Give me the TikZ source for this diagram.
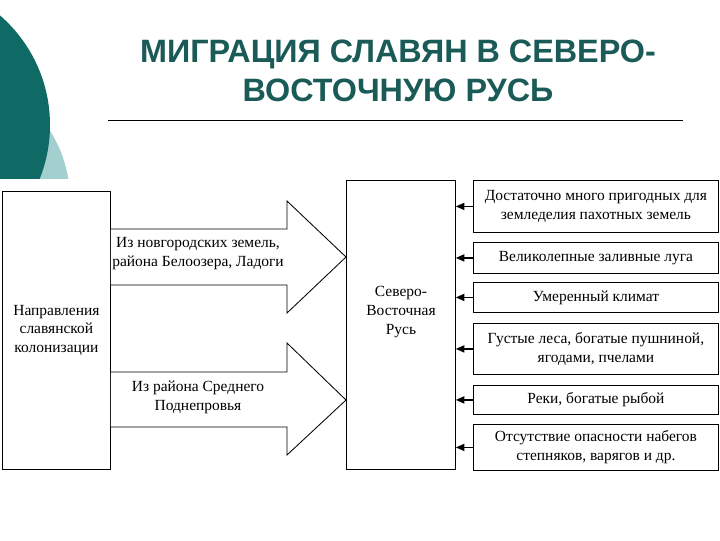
\documentclass[tikz,border=0pt]{standalone}
\usepackage{fontspec}
\setmainfont{Liberation Serif}
\newfontfamily\headfont{Liberation Sans}
\usepackage{xcolor}
\usetikzlibrary{calc,positioning,arrows.meta}

\definecolor{tealdark}{HTML}{0F6965}
\definecolor{teallight}{HTML}{A3CFCE}
\definecolor{titlecol}{HTML}{1A5A57}

\begin{document}
\begin{tikzpicture}[
    x=0.025cm, y=-0.025cm,
    every node/.style={font=\fontsize{11}{13.5}\selectfont, inner sep=1pt},
    box/.style={rectangle, draw=black, line width=0.6pt, fill=white, align=center},
    fac/.style={box, minimum width=245*0.025cm, anchor=north west},
    blk/.style={draw=black, line width=0.6pt, fill=white, line join=miter},
    arr/.style={-{Triangle[length=6pt, width=5pt]}, line width=1pt}
]
\useasboundingbox (0,0) rectangle (720,540);

% background circles
\begin{scope}
  \clip (0,0) rectangle (720,178);
  \fill[teallight] (-60,200) circle[radius=130];
  \fill[tealdark] (-95,125) circle[radius=145];
\end{scope}

% title
\node[font=\headfont\bfseries\fontsize{23}{28}\selectfont, text=titlecol, align=center]
  (title) at (398,71) {МИГРАЦИЯ СЛАВЯН В СЕВЕРО-\\ВОСТОЧНУЮ РУСЬ};
\draw[line width=0.6pt] (108,120) coordinate (rl) -- (683,120) coordinate (rr);

% main boxes
\node[box, minimum width=108*0.025cm, minimum height=278*0.025cm, anchor=north west]
  (dir) at (2,191) {};
\node[align=center] (dirtxt) at (dir.center) {Направления\\славянской\\колонизации};
\node[box, minimum width=109*0.025cm, minimum height=289*0.025cm, anchor=north west]
  (rus) at (346,180) {};
\node[align=center] (rustxt) at (401,312) {Северо-\\Восточная\\Русь};

% block arrows
\draw[blk] (dir.east |- 0,229) -- (287,229) -- (287,201) -- (rus.west |- 0,257)
  -- (287,313) -- (287,285) -- (dir.east |- 0,285);
\node[align=center] (way1) at (198,254) {Из новгородских земель,\\района Белоозера, Ладоги};
\draw[blk] (dir.east |- 0,372) -- (287,372) -- (287,343) -- (rus.west |- 0,400)
  -- (287,455) -- (287,427) -- (dir.east |- 0,427);
\node[align=center] (way2) at (198,397) {Из района Среднего\\Поднепровья};

% factors
\node[fac, minimum height=52*0.025cm] (f1) at (473,180) {Достаточно много пригодных для\\земледелия пахотных земель};
\node[fac, minimum height=31*0.025cm] (f2) at (473,242) {Великолепные заливные луга};
\node[fac, minimum height=30*0.025cm] (f3) at (473,282) {Умеренный климат};
\node[fac, minimum height=51*0.025cm] (f4) at (473,323) {Густые леса, богатые пушниной,\\ягодами, пчелами};
\node[fac, minimum height=29*0.025cm] (f5) at (473,385) {Реки, богатые рыбой};
\node[fac, minimum height=46*0.025cm] (f6) at (473,424) {Отсутствие опасности набегов\\степняков, варягов и др.};

\foreach \f in {f1,f2,f3,f4,f5,f6}
  \draw[arr] (\f.west) -- (rus.east |- \f.west);
\end{tikzpicture}
\end{document}
